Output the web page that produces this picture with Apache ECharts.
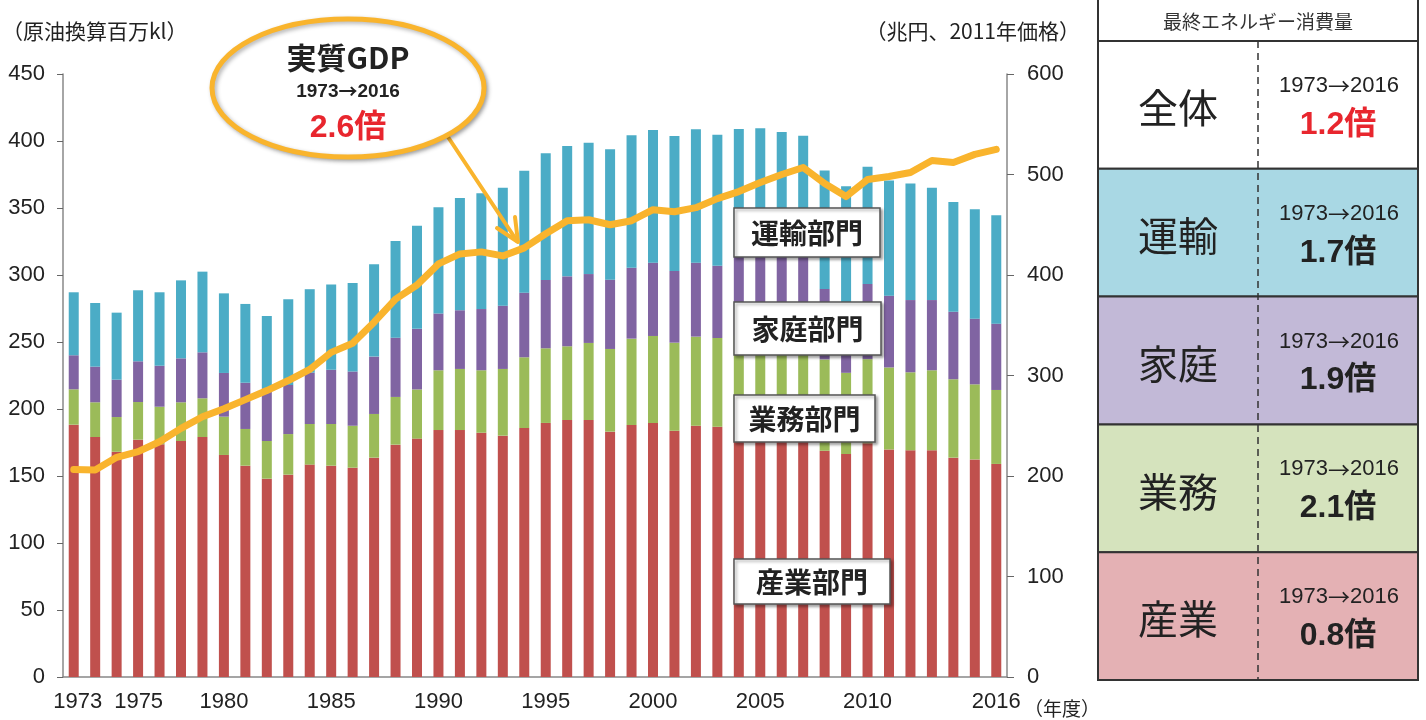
<!DOCTYPE html>
<html lang="ja">
<head>
  <meta charset="UTF-8">
  <title>最終エネルギー消費と実質GDPの推移</title>
  <script src="https://cdn.jsdelivr.net/npm/echarts@6/dist/echarts.min.js"></script>
  <style>
    html, body {
      margin: 0;
      padding: 0;
      background: #fff;
    }

    #main {
      width: 1426px;
      height: 720px;
    }
  </style>
</head>
<body>
  <div id="main"></div>

  <script type="text/javascript">
    // 年度
    var years = ['1973','1974','1975','1976','1977','1978','1979','1980','1981','1982',
      '1983','1984','1985','1986','1987','1988','1989','1990','1991','1992',
      '1993','1994','1995','1996','1997','1998','1999','2000','2001','2002',
      '2003','2004','2005','2006','2007','2008','2009','2010','2011','2012',
      '2013','2014','2015','2016']
    var shownYears = ['1973','1975','1980','1985','1990','1995','2000','2005','2010','2016']

    // 部門別 最終エネルギー消費 (原油換算百万kl)
    var industry = [188.3,179.1,168.1,177.1,173.7,176.1,179.1,165.7,157.7,148.0,
      151.0,158.5,157.7,156.2,163.7,173.4,177.9,184.3,184.3,182.3,
      180.1,185.8,189.6,191.8,191.8,183.1,188.1,189.6,183.8,187.5,
      186.8,187.0,186.0,188.0,185.0,168.9,166.4,174.4,169.8,169.2,
      169.2,163.7,162.4,159.0]
    var business = [26.4,25.9,25.9,28.1,28.0,28.9,28.9,28.6,27.4,28.1,
      30.3,30.3,31.1,31.3,32.6,35.6,36.7,44.6,45.6,46.6,
      49.8,52.8,55.7,55.0,57.5,61.7,64.4,64.9,65.7,66.5,
      66.2,68.0,72.0,67.0,71.0,68.1,60.6,62.8,61.2,58.2,
      59.7,58.5,56.0,55.2]
    var household = [25.4,26.6,27.9,30.4,30.6,32.8,34.3,32.6,34.5,39.4,
      36.7,38.3,40.5,40.5,42.8,44.2,45.2,42.4,43.8,45.7,
      47.2,48.2,51.0,52.2,51.4,51.7,52.9,54.7,53.5,55.2,
      53.9,61.0,60.0,60.0,60.0,52.6,49.0,56.1,53.6,53.9,
      52.4,50.4,49.0,49.5]
    var transport = [47.0,47.5,50.0,53.0,54.8,58.2,60.2,59.4,58.8,53.9,
      63.9,62.3,63.7,66.0,68.9,72.2,77.0,79.2,83.8,86.4,
      88.0,91.0,94.5,97.3,98.0,97.3,98.8,99.0,100.7,99.5,
      97.8,93.0,91.5,91.7,88.0,88.4,90.3,87.5,85.9,87.0,
      83.9,81.9,81.6,80.8]

    // 実質GDP (兆円、2011年価格)
    var gdp = [206.5,206,218.6,224.2,234.1,247.4,259,267,276,285,
      295,306,323,332,353,376,390,411,421,423,
      419,427,441,454,455,450,454,465,463,467,
      476,483,492,500,507,491,478,495,498,502,
      514,512,520,525]

    // 右側の表
    var tableLabels = ['全体','運輸','家庭','業務','産業']
    var tableRatios = ['1.2倍','1.7倍','1.9倍','2.1倍','0.8倍']
    var periodFrom = '1973'
    var periodTo = '2016'

    var NUM_FONT = '"Liberation Sans", Arial, "Noto Sans CJK JP", sans-serif'
    var JP_FONT = '"Noto Sans CJK JP", "Liberation Sans", sans-serif'
    var ORANGE = '#f9b42d'

    var myChart = echarts.init(document.getElementById('main'))

    var labelRich = {
      a: { fontSize: 22, color: '#222', fontFamily: NUM_FONT, padding: [0, 0, 0, 8] },
      b: { fontSize: 22, color: '#222', fontFamily: NUM_FONT, padding: [0, 0, 0, 44] }
    }

    // 「1973→2016」を数字と矢印で別フォントにする
    function periodText(x, y, size, bold) {
      var w = bold ? 'bold' : 'normal'
      return {
        type: 'text', z: 101,
        style: {
          text: '{n|' + periodFrom + '}{a|→}{n|' + periodTo + '}',
          x: x, y: y, textAlign: 'center', textVerticalAlign: 'middle',
          rich: {
            n: { fontSize: size, fontWeight: w, fontFamily: NUM_FONT, fill: '#222' },
            a: { fontSize: size, fontWeight: w, fontFamily: JP_FONT, fill: '#222' }
          }
        }
      }
    }

    // 表のグラフィック
    var tableTop = 41
    var rowH = 127.8
    var tLeft = 1098
    var tRight = 1418
    var tMid = 1258
    var rowFills = ['#ffffff', '#a9d8e4', '#c2b9d7', '#d5e3bd', '#e4b1b4']
    var tableGraphics = []
    tableGraphics.push({
      type: 'rect', z: 100,
      shape: { x: tLeft, y: -4, width: tRight - tLeft, height: tableTop + 4 },
      style: { fill: '#fff', stroke: '#333', lineWidth: 2 }
    })
    tableGraphics.push({
      type: 'text', z: 101,
      style: {
        text: '最終エネルギー消費量', x: (tLeft + tRight) / 2, y: 22,
        textAlign: 'center', textVerticalAlign: 'middle',
        font: '19px ' + JP_FONT, fill: '#333'
      }
    })
    tableLabels.forEach(function(name, i) {
      var y0 = tableTop + i * rowH
      var mid = y0 + rowH / 2
      tableGraphics.push({
        type: 'rect', z: 100,
        shape: { x: tLeft, y: y0, width: tRight - tLeft, height: rowH },
        style: { fill: rowFills[i], stroke: '#333', lineWidth: 2 }
      })
      tableGraphics.push({
        type: 'text', z: 101,
        style: {
          text: name, x: (tLeft + tMid) / 2, y: mid + 3,
          textAlign: 'center', textVerticalAlign: 'middle',
          font: '40px ' + JP_FONT, fill: '#222'
        }
      })
      tableGraphics.push(periodText((tMid + tRight) / 2 + 1, mid - 19, 22, false))
      tableGraphics.push({
        type: 'text', z: 101,
        style: {
          text: tableRatios[i], x: (tMid + tRight) / 2, y: mid + 20,
          textAlign: 'center', textVerticalAlign: 'middle',
          font: 'bold 32px ' + NUM_FONT, fill: i === 0 ? '#e8262e' : '#222'
        }
      })
    })
    // 破線
    tableGraphics.push({
      type: 'line', z: 102,
      shape: { x1: tLeft, y1: tableTop, x2: tRight, y2: tableTop },
      style: { stroke: '#333', lineWidth: 2, lineDash: [6, 4] }
    })
    tableGraphics.push({
      type: 'line', z: 102,
      shape: { x1: tMid, y1: tableTop, x2: tMid, y2: tableTop + rowH * 5 },
      style: { stroke: '#333', lineWidth: 1.5, lineDash: [7, 5] }
    })

    // 部門ラベル
    function sectorBox(text, x, y, w, h) {
      return [
        {
          type: 'rect', z: 100,
          shape: { x: x, y: y, width: w, height: h },
          style: {
            fill: '#fff', stroke: '#555', lineWidth: 1.5,
            shadowBlur: 3, shadowOffsetX: 2, shadowOffsetY: 2, shadowColor: 'rgba(0,0,0,0.35)'
          }
        },
        {
          type: 'text', z: 101,
          style: {
            text: text, x: x + w / 2, y: y + h / 2 + 1,
            textAlign: 'center', textVerticalAlign: 'middle',
            font: 'bold 28px ' + JP_FONT, fill: '#222'
          }
        }
      ]
    }

    var graphics = [
      {
        type: 'text', z: 100,
        style: { text: '（原油換算百万kl）', x: 2, y: 31, textVerticalAlign: 'middle', font: '21px ' + JP_FONT, fill: '#222' }
      },
      {
        type: 'text', z: 100,
        style: { text: '（兆円、2011年価格）', x: 1080, y: 31, textAlign: 'right', textVerticalAlign: 'middle', font: '21px ' + JP_FONT, fill: '#222' }
      },
      {
        type: 'text', z: 100,
        style: { text: '（年度）', x: 1024, y: 709, textVerticalAlign: 'middle', font: '19px ' + JP_FONT, fill: '#222' }
      },
      // 実質GDP 吹き出し
      {
        type: 'line', z: 99,
        shape: { x1: 448, y1: 137, x2: 517, y2: 241 },
        style: { stroke: ORANGE, lineWidth: 4, lineCap: 'round' }
      },
      {
        type: 'polyline', z: 99,
        shape: { points: [[497, 228], [518, 242], [515, 217]] },
        style: { stroke: ORANGE, lineWidth: 4, fill: null, lineCap: 'round', lineJoin: 'round' }
      },
      {
        type: 'ellipse', z: 100,
        shape: { cx: 348, cy: 88, rx: 136, ry: 69 },
        style: {
          fill: '#fff', stroke: ORANGE, lineWidth: 5,
          shadowBlur: 4, shadowOffsetX: 2, shadowOffsetY: 2, shadowColor: 'rgba(0,0,0,0.3)'
        }
      },
      {
        type: 'text', z: 101,
        style: { text: '実質GDP', x: 348, y: 58, textAlign: 'center', textVerticalAlign: 'middle', font: 'bold 30px ' + JP_FONT, fill: '#222' }
      },
      periodText(348, 92, 19, true),
      {
        type: 'text', z: 101,
        style: { text: '2.6倍', x: 348, y: 128, textAlign: 'center', textVerticalAlign: 'middle', font: 'bold 32px ' + NUM_FONT, fill: '#e8262e' }
      }
    ]
    graphics = graphics
      .concat(sectorBox('運輸部門', 734, 208, 146, 49))
      .concat(sectorBox('家庭部門', 734, 302, 147, 53))
      .concat(sectorBox('業務部門', 734, 395, 141, 47))
      .concat(sectorBox('産業部門', 734, 559, 156, 45))
      .concat(tableGraphics)

    var option = {
      animation: false,
      grid: { left: 63, right: 419, top: 74, bottom: 43 },
      xAxis: {
        type: 'category',
        data: years,
        boundaryGap: true,
        axisLine: { lineStyle: { color: '#888', width: 1.5 } },
        axisTick: { interval: 0, length: 6, lineStyle: { color: '#666' } },
        axisLabel: {
          interval: function(index, value) {
            return shownYears.indexOf(value) >= 0
          },
          margin: 14,
          fontSize: 22,
          color: '#222',
          fontFamily: NUM_FONT,
          formatter: function(value) {
            if (value === '1973') return '{a|' + value + '}'
            if (value === '1975') return '{b|' + value + '}'
            return value
          },
          rich: labelRich
        }
      },
      yAxis: [
        {
          type: 'value', min: 0, max: 450, interval: 50, position: 'left',
          axisLine: { show: true, lineStyle: { color: '#888', width: 1.5 } },
          axisTick: { show: true, length: 6, lineStyle: { color: '#666' } },
          splitLine: { show: false },
          axisLabel: { margin: 18, fontSize: 22, color: '#222', fontFamily: NUM_FONT }
        },
        {
          type: 'value', min: 0, max: 600, interval: 100, position: 'right',
          axisLine: { show: true, lineStyle: { color: '#888', width: 1.5 } },
          axisTick: { show: true, length: 7, lineStyle: { color: '#666' } },
          splitLine: { show: false },
          axisLabel: { margin: 20, fontSize: 22, color: '#222', fontFamily: NUM_FONT }
        }
      ],
      series: [
        { name: '産業部門', type: 'bar', stack: 'energy', barWidth: 10, data: industry, itemStyle: { color: '#c0504d' } },
        { name: '業務部門', type: 'bar', stack: 'energy', barWidth: 10, data: business, itemStyle: { color: '#9bbb59' } },
        { name: '家庭部門', type: 'bar', stack: 'energy', barWidth: 10, data: household, itemStyle: { color: '#8064a2' } },
        { name: '運輸部門', type: 'bar', stack: 'energy', barWidth: 10, data: transport, itemStyle: { color: '#4bacc6' } },
        {
          name: '実質GDP', type: 'line', yAxisIndex: 1, data: gdp, z: 5,
          symbol: 'none', smooth: false,
          lineStyle: { color: ORANGE, width: 7, cap: 'round', join: 'round' }
        }
      ],
      graphic: { elements: graphics }
    }

    myChart.setOption(option)
  </script>
</body>
</html>
